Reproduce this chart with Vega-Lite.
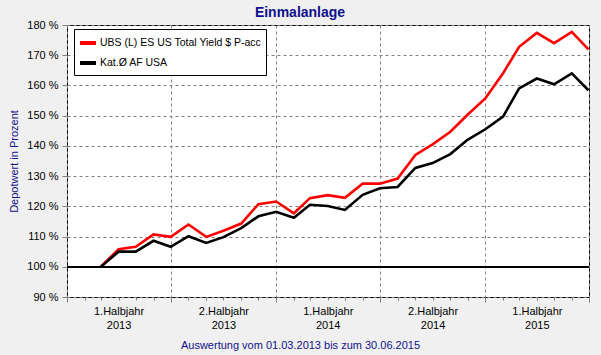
{
  "$schema": "https://vega.github.io/schema/vega-lite/v6.json",
  "width": 522,
  "height": 272,
  "autosize": {"type": "none"},
  "padding": {"left": 67, "top": 25, "right": 12, "bottom": 58},
  "background": "#F0F0F0",
  "title": {
    "text": "Einmalanlage",
    "font": "Liberation Sans",
    "fontSize": 14,
    "fontWeight": "bold",
    "color": "#10108C",
    "anchor": "middle",
    "dx": -28,
    "dy": 6,
    "offset": 5
  },
  "config": {
    "view": {"fill": "white", "stroke": "black", "strokeWidth": 1},
    "axis": {
      "labelFont": "Liberation Sans",
      "labelFontSize": 11,
      "labelColor": "black",
      "titleFont": "Liberation Sans",
      "titleFontSize": 11,
      "titleFontWeight": "normal",
      "titleColor": "#10108C",
      "gridColor": "#808080",
      "gridDash": [3, 3],
      "gridOpacity": 1,
      "tickColor": "#808080",
      "domain": false
    },
    "axisY": {
      "labelOverlap": false,
      "labelBound": false,
      "labelFlush": false,
      "grid": true,
      "tickSize": 5,
      "labelPadding": 4,
      "titlePadding": 7
    },
    "legend": {
      "labelFont": "Liberation Sans",
      "labelFontSize": 10.5,
      "labelColor": "black"
    }
  },
  "data": {
    "values": [
      {"Datum": "2013/03/01", "Fonds": "UBS (L) ES US Total Yield $ P-acc", "Wert": 100},
      {"Datum": "2013/04/01", "Fonds": "UBS (L) ES US Total Yield $ P-acc", "Wert": 105.8},
      {"Datum": "2013/05/01", "Fonds": "UBS (L) ES US Total Yield $ P-acc", "Wert": 106.6},
      {"Datum": "2013/06/01", "Fonds": "UBS (L) ES US Total Yield $ P-acc", "Wert": 110.7},
      {"Datum": "2013/07/01", "Fonds": "UBS (L) ES US Total Yield $ P-acc", "Wert": 109.9},
      {"Datum": "2013/08/01", "Fonds": "UBS (L) ES US Total Yield $ P-acc", "Wert": 114.0},
      {"Datum": "2013/09/01", "Fonds": "UBS (L) ES US Total Yield $ P-acc", "Wert": 109.9},
      {"Datum": "2013/10/01", "Fonds": "UBS (L) ES US Total Yield $ P-acc", "Wert": 111.9},
      {"Datum": "2013/11/01", "Fonds": "UBS (L) ES US Total Yield $ P-acc", "Wert": 114.3},
      {"Datum": "2013/12/01", "Fonds": "UBS (L) ES US Total Yield $ P-acc", "Wert": 120.7},
      {"Datum": "2014/01/01", "Fonds": "UBS (L) ES US Total Yield $ P-acc", "Wert": 121.6},
      {"Datum": "2014/02/01", "Fonds": "UBS (L) ES US Total Yield $ P-acc", "Wert": 117.7},
      {"Datum": "2014/03/01", "Fonds": "UBS (L) ES US Total Yield $ P-acc", "Wert": 122.7},
      {"Datum": "2014/04/01", "Fonds": "UBS (L) ES US Total Yield $ P-acc", "Wert": 123.7},
      {"Datum": "2014/05/01", "Fonds": "UBS (L) ES US Total Yield $ P-acc", "Wert": 122.8},
      {"Datum": "2014/06/01", "Fonds": "UBS (L) ES US Total Yield $ P-acc", "Wert": 127.5},
      {"Datum": "2014/07/01", "Fonds": "UBS (L) ES US Total Yield $ P-acc", "Wert": 127.5},
      {"Datum": "2014/08/01", "Fonds": "UBS (L) ES US Total Yield $ P-acc", "Wert": 129.2},
      {"Datum": "2014/09/01", "Fonds": "UBS (L) ES US Total Yield $ P-acc", "Wert": 137.0},
      {"Datum": "2014/10/01", "Fonds": "UBS (L) ES US Total Yield $ P-acc", "Wert": 140.5},
      {"Datum": "2014/11/01", "Fonds": "UBS (L) ES US Total Yield $ P-acc", "Wert": 144.7},
      {"Datum": "2014/12/01", "Fonds": "UBS (L) ES US Total Yield $ P-acc", "Wert": 150.3},
      {"Datum": "2015/01/01", "Fonds": "UBS (L) ES US Total Yield $ P-acc", "Wert": 155.7},
      {"Datum": "2015/02/01", "Fonds": "UBS (L) ES US Total Yield $ P-acc", "Wert": 164.0},
      {"Datum": "2015/03/01", "Fonds": "UBS (L) ES US Total Yield $ P-acc", "Wert": 172.8},
      {"Datum": "2015/04/01", "Fonds": "UBS (L) ES US Total Yield $ P-acc", "Wert": 177.4},
      {"Datum": "2015/05/01", "Fonds": "UBS (L) ES US Total Yield $ P-acc", "Wert": 174.0},
      {"Datum": "2015/06/01", "Fonds": "UBS (L) ES US Total Yield $ P-acc", "Wert": 177.7},
      {"Datum": "2015/06/30", "Fonds": "UBS (L) ES US Total Yield $ P-acc", "Wert": 171.9},
      {"Datum": "2013/03/01", "Fonds": "Kat.Ø AF USA", "Wert": 100},
      {"Datum": "2013/04/01", "Fonds": "Kat.Ø AF USA", "Wert": 105.0},
      {"Datum": "2013/05/01", "Fonds": "Kat.Ø AF USA", "Wert": 105.0},
      {"Datum": "2013/06/01", "Fonds": "Kat.Ø AF USA", "Wert": 108.6},
      {"Datum": "2013/07/01", "Fonds": "Kat.Ø AF USA", "Wert": 106.6},
      {"Datum": "2013/08/01", "Fonds": "Kat.Ø AF USA", "Wert": 110.1},
      {"Datum": "2013/09/01", "Fonds": "Kat.Ø AF USA", "Wert": 107.9},
      {"Datum": "2013/10/01", "Fonds": "Kat.Ø AF USA", "Wert": 109.8},
      {"Datum": "2013/11/01", "Fonds": "Kat.Ø AF USA", "Wert": 112.8},
      {"Datum": "2013/12/01", "Fonds": "Kat.Ø AF USA", "Wert": 116.7},
      {"Datum": "2014/01/01", "Fonds": "Kat.Ø AF USA", "Wert": 118.2},
      {"Datum": "2014/02/01", "Fonds": "Kat.Ø AF USA", "Wert": 116.2},
      {"Datum": "2014/03/01", "Fonds": "Kat.Ø AF USA", "Wert": 120.5},
      {"Datum": "2014/04/01", "Fonds": "Kat.Ø AF USA", "Wert": 120.1},
      {"Datum": "2014/05/01", "Fonds": "Kat.Ø AF USA", "Wert": 118.8},
      {"Datum": "2014/06/01", "Fonds": "Kat.Ø AF USA", "Wert": 123.8},
      {"Datum": "2014/07/01", "Fonds": "Kat.Ø AF USA", "Wert": 126.0},
      {"Datum": "2014/08/01", "Fonds": "Kat.Ø AF USA", "Wert": 126.4},
      {"Datum": "2014/09/01", "Fonds": "Kat.Ø AF USA", "Wert": 132.7},
      {"Datum": "2014/10/01", "Fonds": "Kat.Ø AF USA", "Wert": 134.3},
      {"Datum": "2014/11/01", "Fonds": "Kat.Ø AF USA", "Wert": 137.3},
      {"Datum": "2014/12/01", "Fonds": "Kat.Ø AF USA", "Wert": 142.0},
      {"Datum": "2015/01/01", "Fonds": "Kat.Ø AF USA", "Wert": 145.5},
      {"Datum": "2015/02/01", "Fonds": "Kat.Ø AF USA", "Wert": 149.7},
      {"Datum": "2015/03/01", "Fonds": "Kat.Ø AF USA", "Wert": 159.0},
      {"Datum": "2015/04/01", "Fonds": "Kat.Ø AF USA", "Wert": 162.3},
      {"Datum": "2015/05/01", "Fonds": "Kat.Ø AF USA", "Wert": 160.4},
      {"Datum": "2015/06/01", "Fonds": "Kat.Ø AF USA", "Wert": 164.0},
      {"Datum": "2015/06/30", "Fonds": "Kat.Ø AF USA", "Wert": 158.4}
    ]
  },
  "layer": [
    {
      "mark": {"type": "line", "strokeWidth": 2.6},
      "encoding": {
        "x": {
          "field": "Datum",
          "type": "temporal",
          "scale": {
            "domain": [
              {"year": 2013, "month": 1, "date": 1},
              {"year": 2015, "month": 7, "date": 1}
            ],
            "nice": false
          },
          "axis": {
            "title": "Auswertung vom 01.03.2013 bis zum 30.06.2015",
            "titleX": 233,
            "titleY": 51,
            "titleAnchor": "middle",
            "titleAlign": "center",
            "titleBaseline": "alphabetic",
            "tickCount": {"interval": "month", "step": 1},
            "grid": true,
            "gridOpacity": {"condition": {"test": "month(datum.value) % 6 === 0", "value": 1}, "value": 0},
            "tickSize": {"condition": {"test": "month(datum.value) % 6 === 0", "value": 5}, "value": 3},
            "labelExpr": "month(datum.value) == 3 ? ['1.Halbjahr', timeFormat(datum.value, '%Y')] : (month(datum.value) == 9 ? ['2.Halbjahr', timeFormat(datum.value, '%Y')] : '')",
            "labelOverlap": false,
            "labelFlush": false,
            "labelBound": false,
            "labelAlign": "center",
            "labelBaseline": "top",
            "labelPadding": 5,
            "labelLineHeight": 14
          }
        },
        "y": {
          "field": "Wert",
          "type": "quantitative",
          "scale": {"domain": [90, 180], "nice": false, "zero": false},
          "axis": {
            "title": "Depotwert in Prozent",
            "values": [90, 100, 110, 120, 130, 140, 150, 160, 170, 180],
            "labelExpr": "datum.value + ' %'"
          }
        },
        "color": {
          "field": "Fonds",
          "type": "nominal",
          "scale": {
            "domain": ["UBS (L) ES US Total Yield $ P-acc", "Kat.Ø AF USA"],
            "range": ["#FF0000", "#000000"]
          },
          "legend": {
            "title": null,
            "orient": "none",
            "legendX": 7,
            "legendY": 4,
            "fillColor": "white",
            "strokeColor": "black",
            "padding": 4,
            "symbolType": "stroke",
            "symbolStrokeWidth": 4,
            "symbolSize": 256,
            "labelOffset": 2,
            "labelLimit": 400,
            "rowPadding": 2
          }
        }
      }
    },
    {
      "mark": {"type": "rule", "color": "black", "strokeWidth": 1},
      "encoding": {
        "y": {
          "datum": 100,
          "type": "quantitative",
          "axis": {
            "title": "Depotwert in Prozent",
            "values": [90, 100, 110, 120, 130, 140, 150, 160, 170, 180],
            "labelExpr": "datum.value + ' %'"
          }
        }
      }
    }
  ]
}
